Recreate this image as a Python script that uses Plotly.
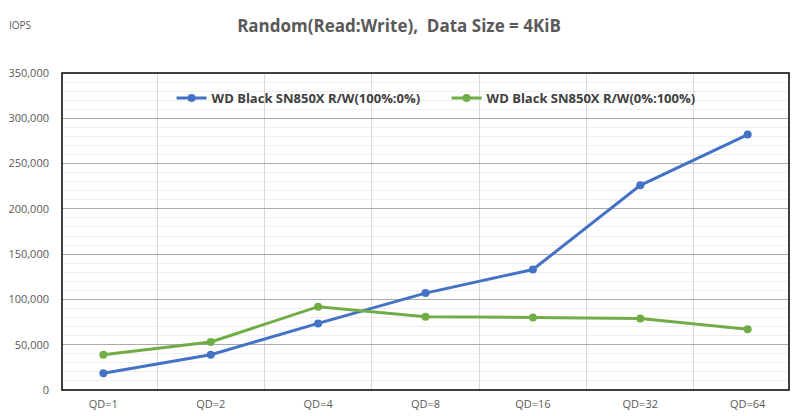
import plotly.graph_objects as go

categories = ["QD=1", "QD=2", "QD=4", "QD=8", "QD=16", "QD=32", "QD=64"]
read_iops = [18500, 39000, 73500, 107000, 133000, 226000, 282000]
write_iops = [39000, 53000, 92000, 81000, 80000, 79000, 67000]
series_names = ["WD Black SN850X R/W(100%:0%)", "WD Black SN850X R/W(0%:100%)"]
y_ticks = [0, 50000, 100000, 150000, 200000, 250000, 300000, 350000]

fig = go.Figure()
fig.add_trace(go.Scatter(x=categories, y=read_iops, name=series_names[0],
                         mode="lines+markers",
                         line=dict(color="#4472C4", width=3),
                         marker=dict(size=8, color="#4472C4")))
fig.add_trace(go.Scatter(x=categories, y=write_iops, name=series_names[1],
                         mode="lines+markers",
                         line=dict(color="#70AD47", width=3),
                         marker=dict(size=8, color="#70AD47")))

fig.update_layout(
    width=798, height=416,
    margin=dict(l=62, r=9, t=73, b=26, autoexpand=False),
    paper_bgcolor="white", plot_bgcolor="white",
    font=dict(family="Open Sans", color="#595959", size=11),
    title=dict(text="<b>Random(Read:Write),  Data Size = 4KiB</b>",
               x=0.5, xref="container", xanchor="center", y=0.938, yanchor="middle",
               font=dict(size=17, color="#595959", family="Open Sans")),
    legend=dict(orientation="h", x=0.529, xanchor="center", y=0.921, yanchor="middle",
                font=dict(size=13, color="#404040", weight="bold"),
                bgcolor="rgba(255,255,255,0)", itemwidth=30, entrywidth=230),
    showlegend=True,
    annotations=[dict(text="IOPS", xref="paper", yref="paper", x=-0.075, y=1.151,
                      xanchor="left", yanchor="middle", showarrow=False,
                      font=dict(size=10, color="#595959"))],
    shapes=[dict(type="rect", xref="paper", yref="paper", x0=0, y0=0, x1=1, y1=1,
                 line=dict(color="black", width=1.5), layer="above")],
)

fig.update_xaxes(type="category", tickson="boundaries", showgrid=True,
                 gridcolor="#D9D9D9", gridwidth=1, ticks="", showline=False,
                 ticklabelstandoff=6,
                 tickfont=dict(size=11, color="#595959"), fixedrange=True)
fig.update_yaxes(range=[0, 350000], tickvals=y_ticks, tickformat=",",
                 showgrid=True, gridcolor="#ABABAB", gridwidth=1,
                 minor=dict(dtick=10000, showgrid=True, gridcolor="#EFEFEF", gridwidth=1),
                 zeroline=False, showline=False, ticks="",
                 ticklabelstandoff=12,
                 tickfont=dict(size=11, color="#595959"), fixedrange=True)

fig.write_html("out.html", config={"displayModeBar": False},
               post_script="document.body.style.margin='0px';")
